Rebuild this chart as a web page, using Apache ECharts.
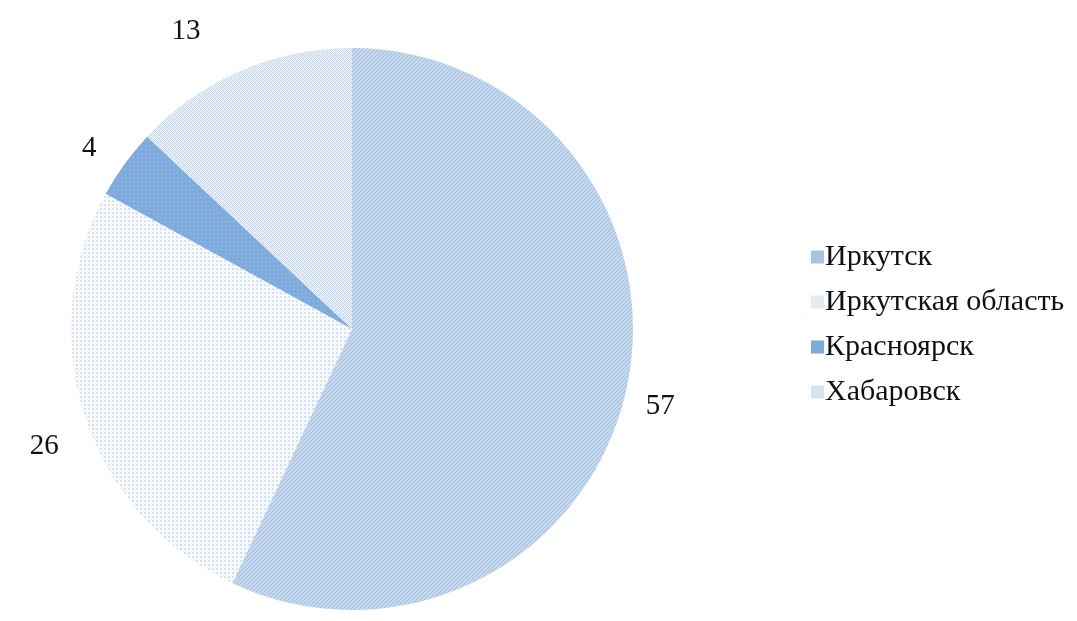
<!DOCTYPE html>
<html><head><meta charset="utf-8">
<script src="https://cdn.jsdelivr.net/npm/echarts@6/dist/echarts.min.js"></script>
<style>html,body{margin:0;padding:0;background:#fff}#c{width:1077px;height:621px}</style>
</head><body><div id="c"></div>
<script>
const categories = ['Иркутск', 'Иркутская область', 'Красноярск', 'Хабаровск'];
const values = [57, 26, 4, 13];
const labelNudges = [[0, 12], [-7, 24], [-12, -4], [-32, -21]];

function pattern(kind) {
  const c = document.createElement('canvas');
  const s = 4;
  c.width = s; c.height = s;
  const g = c.getContext('2d');
  if (kind === 'lines') {
    g.fillStyle = '#c3d8ee'; g.fillRect(0, 0, s, s);
    g.fillStyle = '#a6c0dc';
    for (let i = 0; i < s; i++) g.fillRect((s - 1 - i), i, 1, 1);
  } else if (kind === 'dots') {
    g.fillStyle = '#f7f9fc'; g.fillRect(0, 0, s, s);
    g.fillStyle = '#d6e1ee'; g.fillRect(0, 0, 2, 2);
  } else if (kind === 'bluedots') {
    g.fillStyle = '#7fabdc'; g.fillRect(0, 0, s, s);
    g.fillStyle = '#a8c7ea'; g.fillRect(1, 1, 1, 1);
  } else {
    g.fillStyle = '#e9f0f9'; g.fillRect(0, 0, s, s);
    g.fillStyle = '#c6d7ea';
    g.fillRect(0, 0, 1, 1); g.fillRect(2, 2, 1, 1); g.fillRect(1, 1, 1, 1); g.fillRect(3, 3, 1, 1);
    g.fillRect(3, 1, 1, 1); g.fillRect(1, 3, 1, 1);
  }
  return { image: c, repeat: 'repeat' };
}
const fills = [pattern('lines'), pattern('dots'), pattern('bluedots'), pattern('cross')];
const legendColors = ['#a9c3df', '#e3ebf4', '#7fabdc', '#d6e3f1'];

const chart = echarts.init(document.getElementById('c'), null, { renderer: 'canvas' });
chart.setOption({
  animation: false,
  legend: {
    orient: 'vertical', left: 806, top: 237, itemWidth: 13, itemHeight: 13, itemGap: 15,
    icon: 'rect',
    textStyle: { fontFamily: 'Liberation Serif', fontSize: 30, lineHeight: 30, color: '#111', padding: [0, 0, 0, -4] },
    data: categories.map((n, i) => ({ name: n, itemStyle: { color: legendColors[i] } }))
  },
  series: [{
    type: 'pie', center: [352, 329], radius: 281, startAngle: 90, clockwise: true,
    label: { show: true, position: 'outside', formatter: '{c}', fontFamily: 'Liberation Serif', fontSize: 29, color: '#111', distanceToLabelLine: 0 },
    labelLine: { show: false, length: 20, length2: 0 },
    labelLayout: { hideOverlap: false },
    emphasis: { disabled: true },
    itemStyle: { borderWidth: 0 },
    data: categories.map((n, i) => ({ name: n, value: values[i], itemStyle: { color: fills[i] }, label: { offset: labelNudges[i] } }))
  }]
});
</script></body></html>
